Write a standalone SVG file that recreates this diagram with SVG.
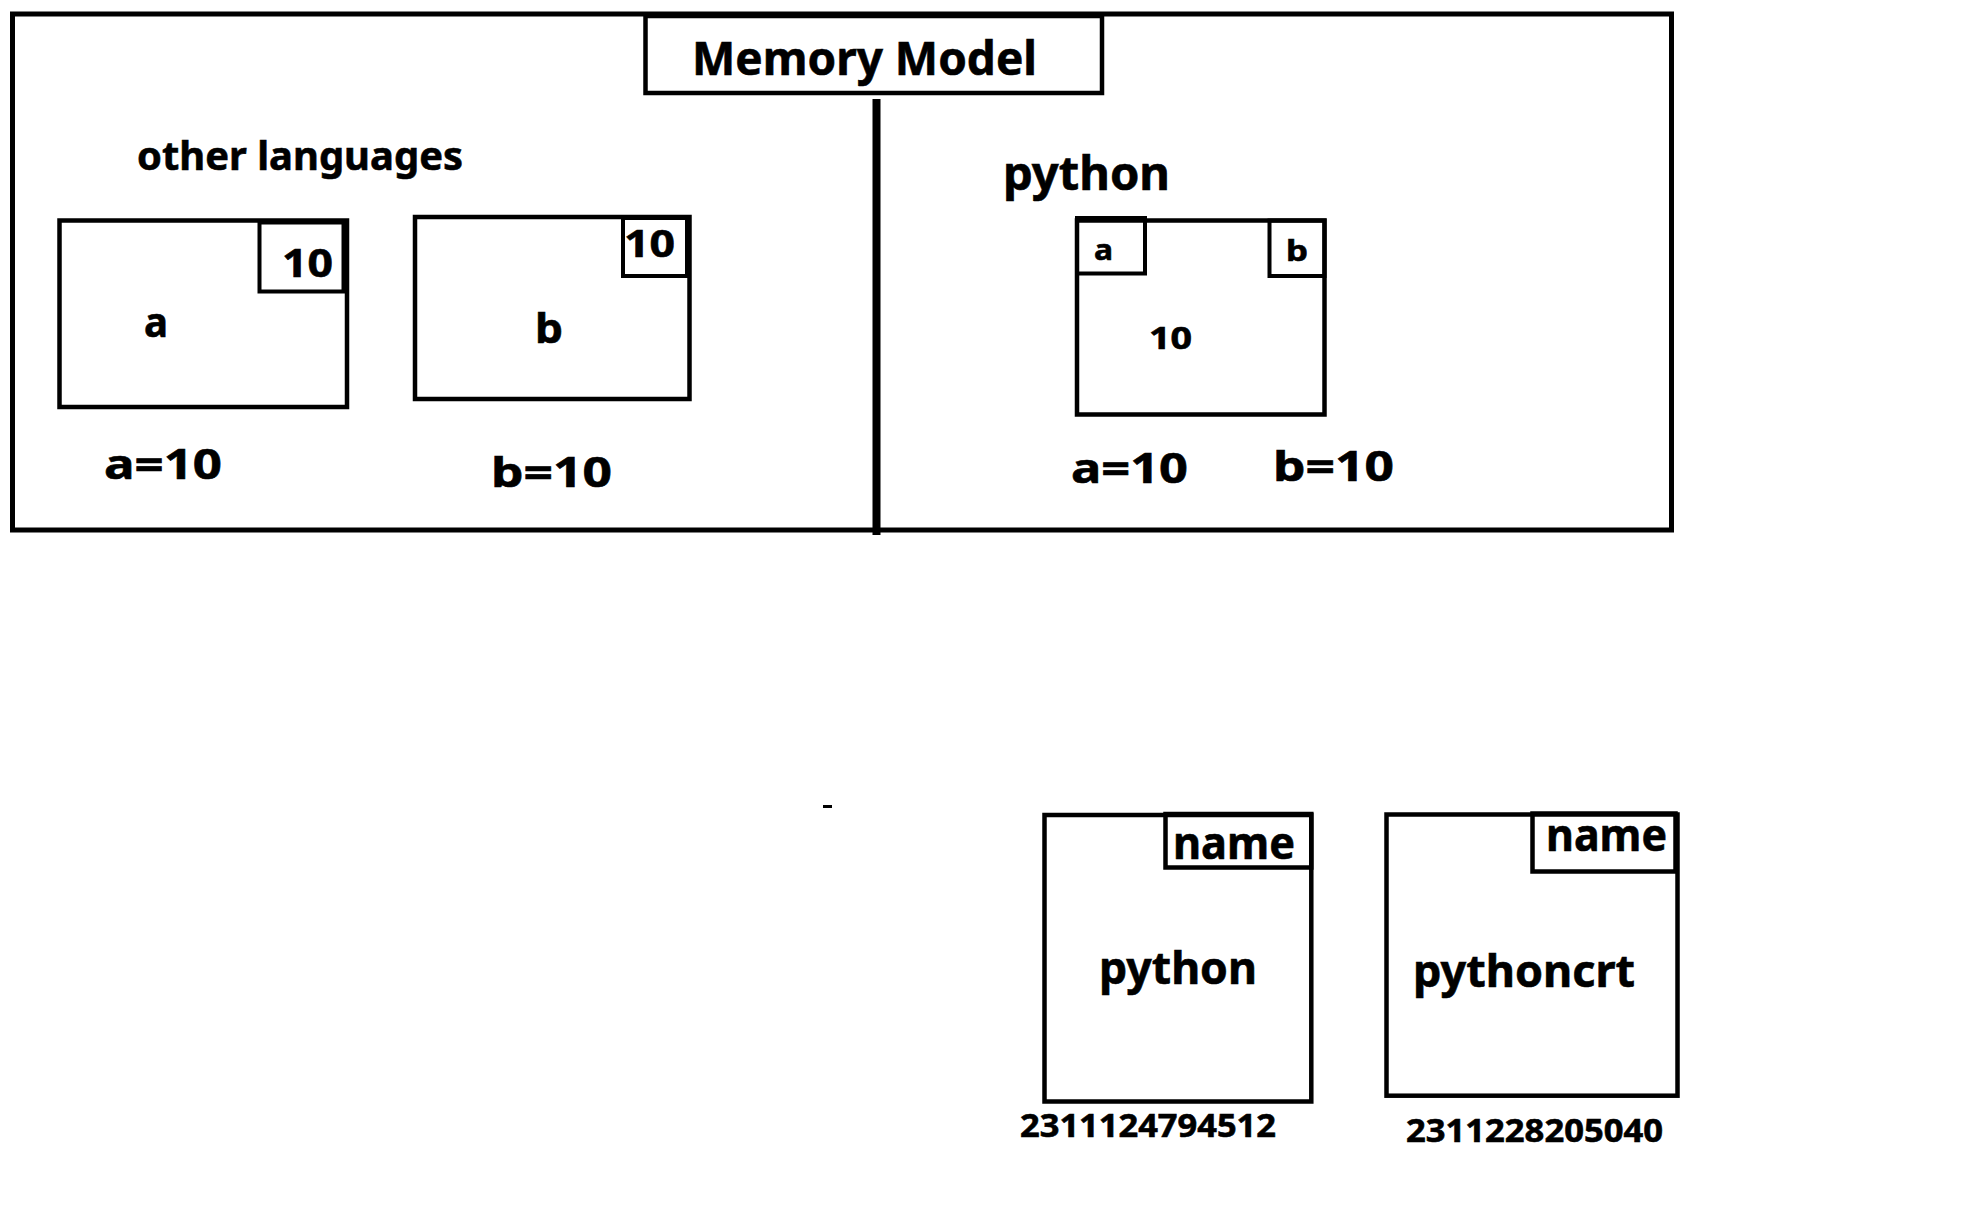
<svg xmlns="http://www.w3.org/2000/svg" width="1974" height="1211" viewBox="0 0 1974 1211">
<style>
rect.b{fill:none;stroke:#000;stroke-width:4.5}
rect.s{fill:none;stroke:#000;stroke-width:4}
text{font-family:"Noto Sans","Open Sans","DejaVu Sans",sans-serif;font-weight:bold;fill:#000;stroke:#000;stroke-width:0.6}
</style>
<rect width="1974" height="1211" fill="#fff"/>
<g id="frame">
<rect x="12.5" y="14" width="1659" height="516" fill="none" stroke="#000" stroke-width="5"/>
</g>
<g id="title">
<rect class="b" x="645.5" y="16" width="456.5" height="77"/>
<text x="692" y="75" font-size="46" textLength="345" lengthAdjust="spacingAndGlyphs">Memory Model</text>
</g>
<g id="divider">
<line x1="876.5" y1="99" x2="876.5" y2="535" stroke="#000" stroke-width="8"/>
</g>
<g id="other-languages">
<text x="137" y="170" font-size="40" textLength="326" lengthAdjust="spacingAndGlyphs">other languages</text>
</g>
<g id="box-a">
<rect class="b" x="59.5" y="220.5" width="287.5" height="186.5"/>
<rect class="s" x="259.5" y="222.5" width="84" height="69"/>
<text x="282" y="277" font-size="40" textLength="51" lengthAdjust="spacingAndGlyphs">10</text>
<text x="144" y="337" font-size="41" textLength="24" lengthAdjust="spacingAndGlyphs">a</text>
<text x="104" y="479" font-size="42" textLength="118" lengthAdjust="spacingAndGlyphs">a=10</text>
</g>
<g id="box-b">
<rect class="b" x="415" y="217" width="274.5" height="182"/>
<rect class="s" x="623" y="218" width="64" height="58"/>
<text x="624" y="257" font-size="38" textLength="51" lengthAdjust="spacingAndGlyphs">10</text>
<text x="535" y="343" font-size="41" textLength="28" lengthAdjust="spacingAndGlyphs">b</text>
<text x="491" y="487" font-size="42" textLength="121" lengthAdjust="spacingAndGlyphs">b=10</text>
</g>
<g id="python-section">
<text x="1003" y="190" font-size="46" textLength="167" lengthAdjust="spacingAndGlyphs">python</text>
</g>
<g id="python-box">
<rect class="b" x="1077" y="220.5" width="247.5" height="194"/>
<rect class="s" x="1077" y="218" width="68" height="55.5"/>
<rect class="s" x="1269.5" y="220.5" width="55" height="55.5"/>
<text x="1094" y="260" font-size="29" textLength="19" lengthAdjust="spacingAndGlyphs">a</text>
<text x="1286" y="261" font-size="29" textLength="22" lengthAdjust="spacingAndGlyphs">b</text>
<text x="1149" y="349" font-size="30" textLength="43" lengthAdjust="spacingAndGlyphs">10</text>
<text x="1071" y="483" font-size="42" textLength="117" lengthAdjust="spacingAndGlyphs">a=10</text>
<text x="1273" y="481" font-size="42" textLength="121" lengthAdjust="spacingAndGlyphs">b=10</text>
</g>
<g id="dash">
<rect x="823" y="805" width="9" height="3" fill="#000"/>
</g>
<g id="obj-python">
<rect class="b" x="1044.5" y="815" width="266.8" height="286.5"/>
<rect class="b" x="1165.5" y="814" width="145.8" height="53.5"/>
<text x="1173" y="859" font-size="44" textLength="122" lengthAdjust="spacingAndGlyphs">name</text>
<text x="1099" y="984" font-size="44" textLength="158" lengthAdjust="spacingAndGlyphs">python</text>
<text x="1020" y="1137" font-size="32" textLength="256" lengthAdjust="spacingAndGlyphs">2311124794512</text>
</g>
<g id="obj-pythoncrt">
<rect class="b" x="1386.5" y="814.5" width="291" height="281.2"/>
<rect class="b" x="1532.5" y="813.5" width="143" height="58"/>
<text x="1546" y="851" font-size="44" textLength="121" lengthAdjust="spacingAndGlyphs">name</text>
<text x="1413" y="987" font-size="44" textLength="222" lengthAdjust="spacingAndGlyphs">pythoncrt</text>
<text x="1406" y="1142" font-size="32" textLength="257" lengthAdjust="spacingAndGlyphs">2311228205040</text>
</g>
<g id="connectors"/>
</svg>
